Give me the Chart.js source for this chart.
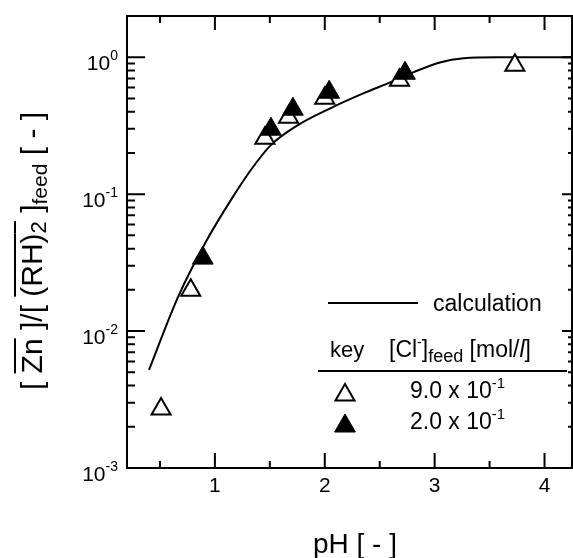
<!DOCTYPE html>
<html>
<head>
<meta charset="utf-8">
<script src="https://cdn.jsdelivr.net/npm/chart.js@4.4.0/dist/chart.umd.min.js"></script>
<style>
  body { margin: 0; background: #fff; }
</style>
</head>
<body>
<canvas id="grafico" width="573" height="558"></canvas>
<script>
// [Cl-]feed = 9.0 x 10^-1 (triangulo aberto)
const phAlto = [0.51, 0.78, 1.455, 1.67, 2.0, 2.68, 3.73];
const znAlto = [0.0027, 0.0199, 0.256, 0.365, 0.502, 0.68, 0.875];

// [Cl-]feed = 2.0 x 10^-1 (triangulo cheio)
const phBaixo = [0.89, 1.51, 1.71, 2.04, 2.73];
const znBaixo = [0.0341, 0.298, 0.417, 0.555, 0.764];

// curva calculada
const phCalc = [0.40, 0.664, 0.927, 1.145, 1.327, 1.509, 1.755, 2.055, 2.355, 2.6, 2.81, 3.055, 3.264, 3.573, 4.25];
const znCalc = [0.0052, 0.0177, 0.0462, 0.0904, 0.150, 0.228, 0.319, 0.425, 0.546, 0.657, 0.778, 0.92, 0.983, 1.0, 1.0];

const xTicks = [1, 2, 3, 4];
const xMenores = [0.5, 1.5, 2.5, 3.5];
const yTicks = [0.001, 0.01, 0.1, 1];
const yExpoentes = ["-3", "-2", "-1", "0"];

const fonte = '"Liberation Sans", Arial, Helvetica, sans-serif';

function pontos(xs, ys) {
  return xs.map((x, i) => ({ x: x, y: ys[i] }));
}

function f(size, style) {
  return (style || "") + " " + size + "px " + fonte;
}

// escreve pedacos de texto com sub/sobrescrito e linha em cima
function textoRico(ctx, partes, x, y, align) {
  let total = 0;
  partes.forEach(p => {
    ctx.font = f(p.size, p.style);
    p.w = ctx.measureText(p.t).width;
    total += p.w;
  });
  let cx = x;
  if (align === "center") cx = x - total / 2;
  if (align === "right") cx = x - total;
  ctx.textAlign = "left";
  ctx.textBaseline = "alphabetic";
  partes.forEach(p => {
    ctx.font = f(p.size, p.style);
    ctx.fillText(p.t, cx, y + (p.dy || 0));
    if (p.over) ctx.fillRect(cx, y + p.over, p.w, 2);
    cx += p.w;
  });
}

const moldura = {
  id: "moldura",
  afterDraw: (chart) => {
    const ctx = chart.ctx;
    const { left, right, top, bottom } = chart.chartArea;
    const sx = chart.scales.x;
    const sy = chart.scales.y;
    ctx.save();
    ctx.strokeStyle = "#000";
    ctx.fillStyle = "#000";
    ctx.lineWidth = 2;
    ctx.strokeRect(left, top, right - left, bottom - top);

    // ticks do eixo x (para dentro)
    function tickX(v, lb, lt) {
      const px = sx.getPixelForValue(v);
      ctx.beginPath();
      ctx.moveTo(px, bottom); ctx.lineTo(px, bottom - lb);
      ctx.moveTo(px, top); ctx.lineTo(px, top + lt);
      ctx.stroke();
    }
    xTicks.forEach(v => tickX(v, 15, 14));
    xMenores.forEach(v => tickX(v, 7, 7));

    // ticks do eixo y (log)
    function tickY(v, ll, lr) {
      const py = sy.getPixelForValue(v);
      ctx.beginPath();
      ctx.moveTo(left, py); ctx.lineTo(left + ll, py);
      ctx.moveTo(right, py); ctx.lineTo(right - lr, py);
      ctx.stroke();
    }
    yTicks.forEach(d => {
      tickY(d, 18, 10);
      for (let m = 2; m <= 9; m++) {
        if (m * d < sy.max) tickY(m * d, 8, 4);
      }
    });

    // rotulos
    ctx.textAlign = "center";
    ctx.font = f(21);
    xTicks.forEach(v => {
      ctx.fillText(String(v), sx.getPixelForValue(v), bottom + 24);
    });
    yTicks.forEach((v, i) => {
      const py = sy.getPixelForValue(v);
      textoRico(ctx, [
        { t: "10", size: 21 },
        { t: yExpoentes[i], size: 14, dy: -10 }
      ], left - 9, py + 13, "right");
    });

    // titulo x
    textoRico(ctx, [{ t: "pH [ - ]", size: 28 }], 355, 553, "center");

    // titulo y
    ctx.save();
    ctx.translate(42, 251);
    ctx.rotate(-Math.PI / 2);
    textoRico(ctx, [
      { t: "[ ", size: 30 },
      { t: "Zn", size: 30, over: -28 },
      { t: " ]/[ ", size: 30 },
      { t: "(RH)", size: 30, over: -28 },
      { t: "2", size: 22, dy: 4, over: -28 },
      { t: " ]", size: 30 },
      { t: "feed", size: 21, dy: 5 },
      { t: " [ - ]", size: 30 }
    ], 0, 0, "center");
    ctx.restore();

    // legenda
    ctx.lineWidth = 2;
    ctx.beginPath();
    ctx.moveTo(328, 303); ctx.lineTo(418, 303);
    ctx.stroke();
    textoRico(ctx, [{ t: "calculation", size: 23 }], 433, 311, "left");
    textoRico(ctx, [{ t: "key", size: 22 }], 330, 357, "left");
    textoRico(ctx, [
      { t: "[Cl", size: 23 },
      { t: "-", size: 14, dy: -10 },
      { t: "]", size: 23 },
      { t: "feed", size: 18, dy: 5 },
      { t: " [mol/", size: 23 },
      { t: "l", size: 23, style: "italic" },
      { t: "]", size: 23 }
    ], 389, 357, "left");
    ctx.beginPath();
    ctx.moveTo(318, 371); ctx.lineTo(567, 371);
    ctx.stroke();

    const linhas = [
      { ds: chart.data.datasets[1], y: 392, txt: "9.0 x 10" },
      { ds: chart.data.datasets[0], y: 423, txt: "2.0 x 10" }
    ];
    linhas.forEach(l => {
      ctx.fillStyle = l.ds.backgroundColor;
      ctx.strokeStyle = l.ds.borderColor;
      ctx.lineWidth = l.ds.borderWidth;
      Chart.helpers.drawPoint(ctx, {
        pointStyle: "triangle", radius: l.ds.pointRadius, rotation: 0, borderWidth: l.ds.borderWidth
      }, 345, l.y + 3);
      ctx.fillStyle = "#000";
      textoRico(ctx, [
        { t: l.txt, size: 23 },
        { t: "-1", size: 15, dy: -10 }
      ], 410, l.y + 6, "left");
    });
    ctx.restore();
  }
};

new Chart(document.getElementById("grafico"), {
  type: "scatter",
  plugins: [moldura],
  data: {
    datasets: [
      {
        label: "2.0 x 10-1",
        data: pontos(phBaixo, znBaixo),
        pointStyle: "triangle",
        pointRadius: 12,
        backgroundColor: "#000",
        borderColor: "#000",
        borderWidth: 1,
        order: 0
      },
      {
        label: "9.0 x 10-1",
        data: pontos(phAlto, znAlto),
        pointStyle: "triangle",
        pointRadius: 11,
        backgroundColor: "#fff",
        borderColor: "#000",
        borderWidth: 2,
        order: 1
      },
      {
        label: "calculation",
        data: pontos(phCalc, znCalc),
        showLine: true,
        pointRadius: 0,
        borderColor: "#000",
        borderWidth: 2,
        cubicInterpolationMode: "monotone",
        order: 2
      }
    ]
  },
  options: {
    responsive: false,
    animation: false,
    layout: { autoPadding: false, padding: { left: 127, right: 1, top: 16, bottom: 90 } },
    plugins: {
      legend: { display: false },
      tooltip: { enabled: false }
    },
    scales: {
      x: { type: "linear", min: 0.2, max: 4.25, display: false },
      y: { type: "logarithmic", min: 0.001, max: 2, display: false }
    }
  }
});
</script>
</body>
</html>
